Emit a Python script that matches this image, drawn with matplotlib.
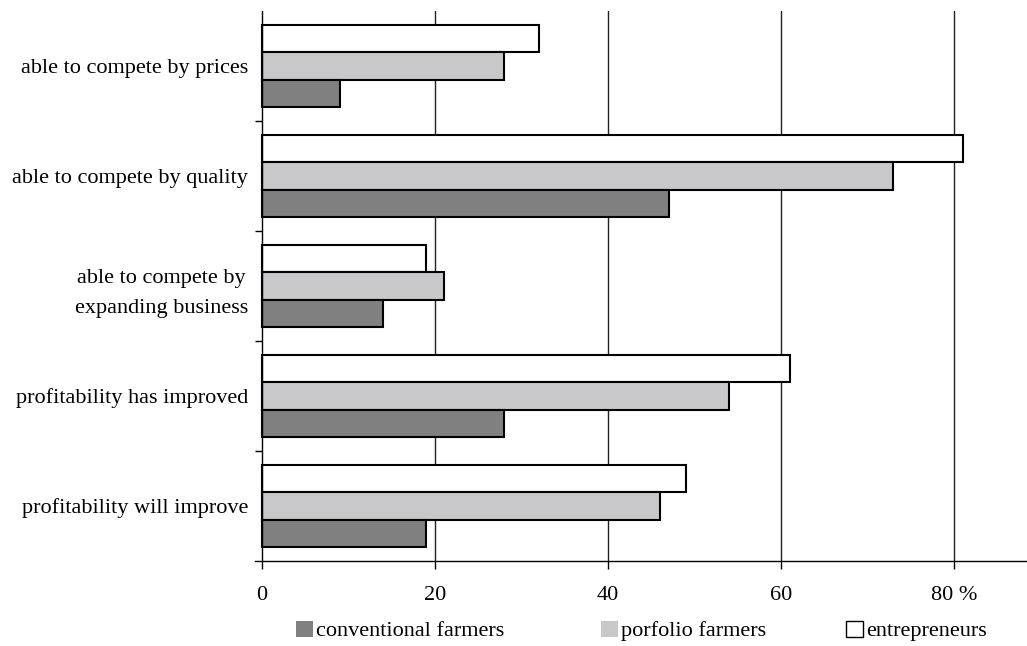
import matplotlib
matplotlib.use("Agg")
import matplotlib.pyplot as plt
from matplotlib.patches import Patch

plt.rcParams['font.family'] = ['Liberation Serif', 'DejaVu Serif']

categories = ["able to compete by prices", "able to compete by quality",
              "able to compete by\nexpanding business", "profitability has improved",
              "profitability will improve"]
conventional = [9, 47, 14, 28, 19]
portfolio = [28, 73, 21, 54, 46]
entrepreneurs = [32, 81, 19, 61, 49]
series_names = ["conventional farmers", "porfolio farmers", "entrepreneurs"]
xticks = [0, 20, 40, 60, 80]
xticklabels = ["0", "20", "40", "60", "80 %"]

DARK = "#808080"
LIGHT = "#c8c8ca"

fig = plt.figure(figsize=(10.27, 6.46), dpi=100)
ax = fig.add_axes([255 / 1027, 85 / 646, 772 / 1027, 550 / 646])

pos = list(range(len(categories)))
h = 0.25
ax.barh([p - h for p in pos], entrepreneurs, height=h, color="white", edgecolor="black", linewidth=1.5, zorder=3)
ax.barh(pos, portfolio, height=h, color=LIGHT, edgecolor="black", linewidth=1.5, zorder=3)
ax.barh([p + h for p in pos], conventional, height=h, color=DARK, edgecolor="black", linewidth=1.5, zorder=3)

ax.set_xlim(-7 / 8.65, 765 / 8.65)
ax.set_ylim(len(categories) - 0.5, -0.5)

# vertical grid and y axis line
for x in xticks[1:]:
    ax.axvline(x, color="#222222", linewidth=1, zorder=1)
ax.axvline(0, color="black", linewidth=1, zorder=4)

ax.set_xticks(xticks)
ax.set_xticklabels(xticklabels, fontsize=16)
ax.tick_params(axis="x", direction="out", length=6, width=1, pad=12)

ax.set_yticks([p + 0.5 for p in pos[:-1]])
ax.set_yticklabels([])
ax.tick_params(axis="y", which="major", direction="in", length=5, width=1)
ax.set_yticks(pos, minor=True)
ax.set_yticklabels(categories, minor=True, fontsize=16, multialignment="center", linespacing=1.75)
ax.tick_params(axis="y", which="minor", length=0, pad=5)

for s in ["top", "right", "left"]:
    ax.spines[s].set_visible(False)
ax.spines["bottom"].set_linewidth(1)

handles = [Patch(facecolor=DARK, edgecolor="none"),
           Patch(facecolor=LIGHT, edgecolor="none"),
           Patch(facecolor="white", edgecolor="black", linewidth=1)]
legend_x = [296, 601, 846]
for hd, name, lx in zip(handles, series_names, legend_x):
    fig.legend([hd], [name], loc="center left", bbox_to_anchor=(lx / 1027, 1 - 631 / 646),
               frameon=False, fontsize=16, handlelength=0.75, handleheight=0.72,
               handletextpad=0.15, borderpad=0, borderaxespad=0)

fig.savefig("out.png", dpi=100)
